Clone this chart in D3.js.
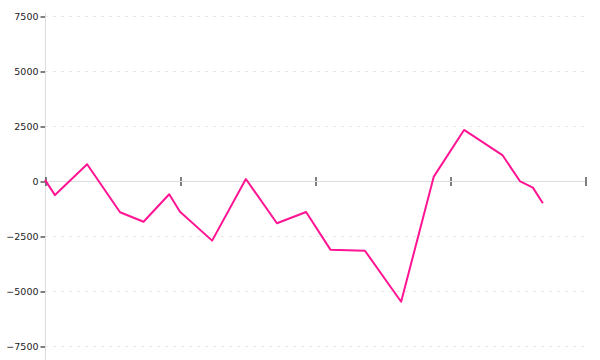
<!DOCTYPE html>
<html>
<head>
<meta charset="utf-8">
<script src="https://cdn.jsdelivr.net/npm/d3@7"></script>
<style>
  body { margin: 0; background: #fff; }
  text { font-family: "DejaVu Sans", sans-serif; }
</style>
</head>
<body>
<svg id="chart" width="600" height="360"></svg>
<script>
// x positions (tick every 5 units)
const xs = [0, 0.37, 1.56, 2.78, 3.65, 4.6, 5, 6.19, 7.44, 8.59, 9.67, 10.57, 11.85, 13.19, 14.4, 15.52, 16.94, 17.6, 18.07, 18.44];
const values = [50, -640, 760, -1420, -1850, -600, -1400, -2710, 90, -1920, -1410, -3120, -3170, -5490, 200, 2320, 1180, -20, -300, -1010];
const yTicks = [-7500, -5000, -2500, 0, 2500, 5000, 7500];
const xTicks = [0, 5, 10, 15, 20];

const svg = d3.select("#chart"),
  width = +svg.attr("width"),
  height = +svg.attr("height");

const margin = { left: 45, right: 15, top: 16, bottom: 14 };

const x = d3.scaleLinear().domain([0, 20]).range([margin.left, width - margin.right]);
const y = d3.scaleLinear().domain([-7500, 7500]).range([height - margin.bottom, margin.top]);

// dashed grid
svg.append("g")
  .selectAll("line")
  .data(yTicks)
  .join("line")
  .attr("x1", x(0))
  .attr("x2", x(20))
  .attr("y1", d => y(d) + 0.5)
  .attr("y2", d => y(d) + 0.5)
  .style("stroke", "#e6e6e6")
  .style("stroke-dasharray", "3,5");

// y axis
const yAxis = svg.append("g")
  .attr("transform", `translate(${margin.left + 0.5},0.5)`)
  .call(d3.axisLeft(y).tickValues(yTicks).tickSize(5).tickPadding(2).tickFormat(d3.format("d")));
yAxis.select(".domain").remove();
yAxis.selectAll("text").style("font-size", "9.5px").attr("fill", "#222");
svg.append("line")
  .attr("x1", margin.left + 0.5).attr("x2", margin.left + 0.5)
  .attr("y1", 13).attr("y2", height)
  .style("stroke", "#ddd");

// x axis on zero line
const xAxis = svg.append("g")
  .attr("transform", `translate(0.5,${y(0) - 4})`)
  .call(d3.axisBottom(x).tickValues(xTicks).tickSize(9).tickFormat(""));
xAxis.select(".domain").remove();
svg.append("line")
  .attr("x1", x(0)).attr("x2", x(20))
  .attr("y1", y(0) + 0.5).attr("y2", y(0) + 0.5)
  .style("stroke", "#ddd");

// series line
const line = d3.line()
  .x((d, i) => x(xs[i]))
  .y(d => y(d));

svg.append("path")
  .datum(values)
  .attr("d", line)
  .attr("fill", "none")
  .style("stroke", "#ff1493")
  .style("stroke-width", 2)
  .style("stroke-linejoin", "round");
</script>
</body>
</html>
